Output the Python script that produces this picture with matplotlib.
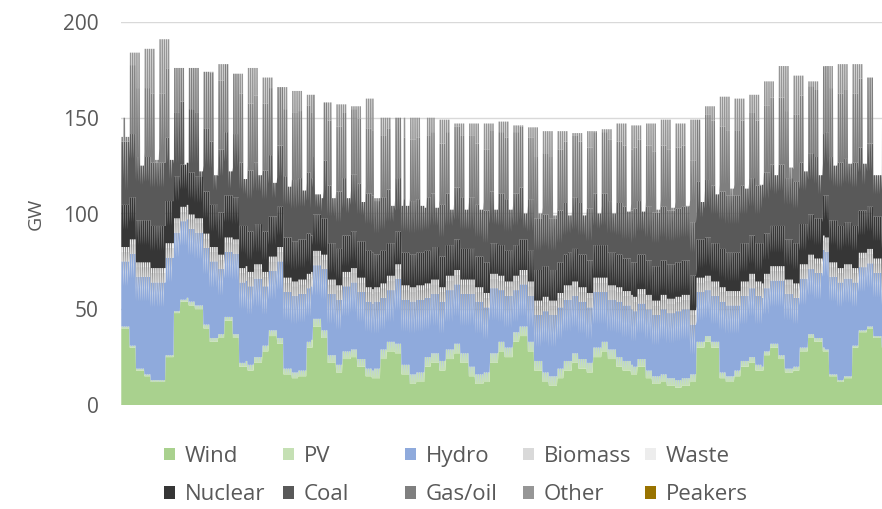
import numpy as np
import pandas as pd
import matplotlib
matplotlib.use("Agg")
import matplotlib.pyplot as plt
from matplotlib.patches import Patch

plt.rcParams['font.family'] = ['Open Sans', 'DejaVu Sans']

# ---------------- data ----------------
series_names = ["Wind", "PV", "Hydro", "Biomass", "Waste",
                "Nuclear", "Coal", "Gas/oil", "Other", "Peakers"]
colors = ["#A9D18E", "#C5E0B4", "#8FAADC", "#D9D9D9", "#EDEDED",
          "#363636", "#595959", "#7F7F7F", "#969696", "#997300"]

# weekly (Mon-Sun weeks, index 0 = Thu 1 Jan - Sun 4 Jan) total generation, GW
peak_weekday = [150, 184, 186, 191, 176, 176, 174, 178, 173, 176,
                171, 166, 164, 162, 158, 157, 156, 160, 150, 150,
                150, 150, 149, 147, 147, 147, 148, 146, 145, 143,
                143, 142, 143, 144, 147, 146, 147, 149, 147, 149,
                156, 161, 160, 162, 169, 177, 172, 169, 177, 178,
                178, 171, 150]
night_weekday = [118, 130, 132, 134, 126, 126, 125, 127, 124, 125,
                 122, 119, 118, 116, 113, 112, 112, 114, 108, 108,
                 108, 108, 107, 106, 106, 106, 106, 105, 104, 103,
                 103, 102, 103, 104, 106, 105, 106, 107, 106, 107,
                 112, 115, 115, 116, 121, 126, 123, 121, 126, 127,
                 127, 122, 112]
peak_weekend = [140, 125, 128, 128, 122, 122, 120, 122, 118, 120,
                116, 114, 112, 110, 108, 108, 106, 108, 104, 104,
                104, 103, 102, 102, 102, 102, 102, 100, 100, 99,
                99, 99, 100, 100, 101, 101, 102, 103, 104, 106,
                110, 113, 113, 115, 120, 124, 122, 120, 125, 126,
                126, 120, 115]
night_weekend = [112, 115, 118, 118, 114, 114, 112, 113, 110, 112,
                 108, 106, 105, 103, 101, 100, 99, 100, 96, 96,
                 96, 95, 94, 94, 94, 94, 94, 92, 92, 91,
                 91, 91, 92, 92, 93, 93, 94, 95, 96, 98,
                 101, 104, 104, 106, 110, 113, 112, 110, 114, 115,
                 115, 110, 108]

# wind, half-week resolution, GW
wind_halfweek = [40, 30, 18, 15, 12, 12, 25, 48, 54, 52,
                 50, 40, 33, 35, 44, 35, 20, 18, 22, 28,
                 36, 32, 16, 14, 15, 30, 41, 35, 22, 17,
                 24, 25, 20, 15, 14, 24, 28, 27, 16, 11,
                 12, 20, 22, 18, 24, 27, 22, 15, 11, 12,
                 22, 28, 25, 33, 36, 28, 18, 12, 10, 14,
                 18, 22, 19, 17, 25, 28, 24, 20, 18, 16,
                 20, 14, 11, 12, 10, 9, 10, 12, 30, 33,
                 30, 14, 12, 15, 20, 22, 18, 26, 30, 24,
                 17, 18, 28, 35, 33, 28, 15, 12, 14, 30,
                 38, 40, 35, 30, 28]

# hydro, weekly, daytime and night-time, GW
hydro_day = [34, 48, 51, 51, 41, 38, 40, 34, 42, 41,
             31, 40, 40, 28, 32, 34, 35, 35, 27, 34,
             38, 31, 31, 31, 38, 34, 27, 22, 24, 32,
             32, 30, 29, 26, 29, 29, 32, 34, 36, 26,
             24, 37, 34, 36, 33, 39, 36, 34, 51, 51,
             33, 33, 34]
hydro_night = [22, 36, 39, 39, 29, 26, 28, 22, 30, 29,
               19, 28, 28, 16, 20, 22, 23, 23, 15, 22,
               26, 19, 19, 19, 26, 22, 15, 10, 12, 20,
               20, 18, 17, 14, 17, 17, 20, 22, 24, 14,
               12, 25, 22, 24, 21, 27, 24, 22, 39, 39,
               21, 21, 22]

# monthly levels / capacities, GW
pv_midday = [1, 2, 3, 4, 5, 5, 5, 5, 4, 3, 2, 1]
biomass = [5, 5, 5, 5, 5, 5, 5, 5, 5, 5, 5, 5]
waste = [2.5, 2.5, 2.5, 2.5, 2.5, 2.5, 2.5, 2.5, 2.5, 2.5, 2.5, 2.5]
nuclear = [22, 22, 21, 19, 17, 16, 16, 17, 18, 20, 21, 22]
coal_cap = [33, 33, 32, 30, 28, 27, 27, 27, 28, 30, 32, 33]
gas_cap = [36, 36, 35, 34, 32, 32, 32, 32, 32, 34, 35, 36]
peakers = [0, 0, 0, 0, 0, 0, 0, 0, 0, 0, 0, 0]

holidays = ["2015-01-01", "2015-04-03", "2015-04-06", "2015-05-01",
            "2015-05-14", "2015-05-25", "2015-12-24", "2015-12-25",
            "2015-12-26"]

# sample hours within a day: night trough, then daytime plateau
day_profile = [(3, False), (5, True), (22, True)]

# ---------------- build the stack ----------------
dates = pd.date_range("2015-01-01", "2015-12-31", freq="D")
hol = set(pd.to_datetime(holidays))
xs = []
layers = {n: [] for n in series_names}
for d, dt in enumerate(dates):
    wk = min((d + 3) // 7, len(peak_weekday) - 1)
    hw = min((2 * d) // 7, len(wind_halfweek) - 1)
    m = dt.month - 1
    off = dt.dayofweek >= 5 or dt in hol
    for hour, is_day in day_profile:
        xs.append(d * 24 + hour)
        if off:
            total = peak_weekend[wk] if is_day else night_weekend[wk]
        else:
            total = peak_weekday[wk] if is_day else night_weekday[wk]
        w = wind_halfweek[hw]
        pv = pv_midday[m] if is_day else 0.0
        hy = hydro_day[wk] if is_day else hydro_night[wk]
        bi, wa, nu = biomass[m], waste[m], nuclear[m]
        rest = max(total - (w + pv + hy + bi + wa + nu), 0.0)
        co = min(rest, coal_cap[m]); rest -= co
        ga = min(rest, gas_cap[m]); rest -= ga
        vals = [w, pv, hy, bi, wa, nu, co, ga, rest, peakers[m]]
        for n, v in zip(series_names, vals):
            layers[n].append(v)

# ---------------- plot ----------------
fig = plt.figure(figsize=(8.82, 5.09), dpi=100)
ax = fig.add_axes([121 / 882, 104 / 509, 769 / 882, 383 / 509])
ax.stackplot(xs, [layers[n] for n in series_names], colors=colors,
             linewidth=0, antialiased=True)
ax.set_xlim(0, 8760)
ax.set_ylim(0, 200)
ax.set_yticks([0, 50, 100, 150, 200])
ax.yaxis.grid(True, color="#D9D9D9", linewidth=1.0)
ax.set_axisbelow(True)
ax.set_xticks([])
for s in ax.spines.values():
    s.set_visible(False)
ax.tick_params(axis="y", length=0, pad=16, labelsize=15, labelcolor="#595959")
ax.set_ylabel("GW", fontsize=14, color="#595959", labelpad=13)

handles = [Patch(facecolor=c, edgecolor="none") for c in colors]
col_text_x = [186, 305, 427, 545, 667]
for j in range(5):
    hs = [handles[j], handles[j + 5]]
    ls = [series_names[j], series_names[j + 5]]
    fig.legend(hs, ls, loc="upper left",
               bbox_to_anchor=((col_text_x[j] - 22) / 882, 1 - 446 / 509),
               frameon=False, fontsize=16, labelcolor="#595959",
               handlelength=0.5, handleheight=0.5, handletextpad=0.45,
               labelspacing=0.78, borderpad=0, borderaxespad=0)

fig.savefig("out.png", dpi=100)
